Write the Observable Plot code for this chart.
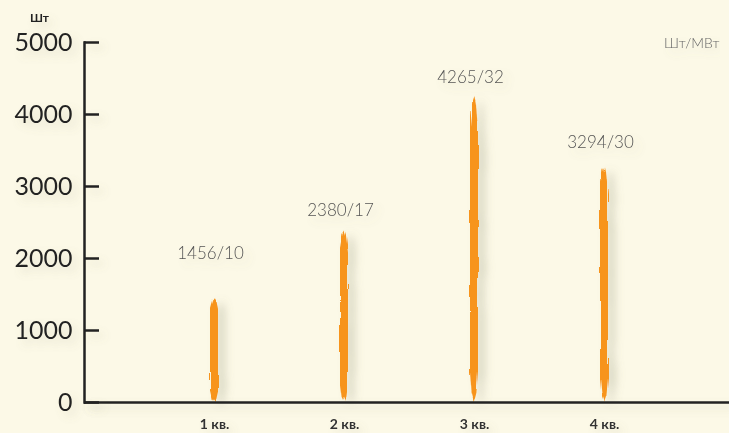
<!DOCTYPE html>
<html>
<head>
<meta charset="utf-8">
<script src="https://cdn.jsdelivr.net/npm/d3@7"></script>
<script src="https://cdn.jsdelivr.net/npm/@observablehq/plot@0.6"></script>
<style>
  html, body { margin: 0; padding: 0; background: #fcf9e7; }
  #chart svg { display: block; background: #fcf9e7; }
</style>
</head>
<body>
<div id="chart"></div>
<script>
const quarters = ["1 кв.", "2 кв.", "3 кв.", "4 кв."];
const units = [1456, 2380, 4265, 3294];
const perMW = [10, 17, 32, 30];
const yTicks = [0, 1000, 2000, 3000, 4000, 5000];
const yUnit = "Шт";
const ratioUnit = "Шт/МВт";

const data = quarters.map((q, i) => ({q, v: units[i], label: `${units[i]}/${perMW[i]}`}));
const labelDy = [-44, -21, -18, -23];

const labelMarks = data.map((d, i) =>
  Plot.text([d], {x: "q", y: "v", text: "label", dy: labelDy[i], dx: -4,
    fill: "#555", fontSize: 17, fontWeight: 300, fontFamily: "Lato, 'Open Sans', sans-serif"}));

const plot = Plot.plot({
  width: 729,
  height: 433,
  marginLeft: 84,
  marginRight: 0,
  marginTop: 42,
  marginBottom: 31,
  style: {background: "#fcf9e7", fontFamily: "Lato, 'Open Sans', sans-serif"},
  x: {type: "band", domain: quarters, paddingInner: 0.94, paddingOuter: 0.94, align: 0.51},
  y: {domain: [0, 5000]},
  marks: [
    Plot.barY(data, {x: "q", y: "v", fill: "#f7941d"}),
    Plot.ruleY([0], {stroke: "#222", strokeWidth: 2.5}),
    Plot.frame({anchor: "left", stroke: "#222", strokeWidth: 2.5}),
    Plot.axisY({ticks: yTicks, tickSize: -15, text: null, label: null, stroke: "#222", strokeWidth: 2.5}),
    Plot.axisY({ticks: yTicks, tickSize: 0, tickPadding: 12, tickFormat: d => String(d), fontSize: 25, fontWeight: 400, fill: "#222", label: null}),
    Plot.axisX({tickSize: 0, tickPadding: 17, fontSize: 14, fontWeight: "bold", fill: "#333", label: null}),
    Plot.text([yUnit], {frameAnchor: "top-left", dx: -45, dy: -29, textAnchor: "middle", fontSize: 12, fontWeight: "bold", fill: "#222"}),
    Plot.text([ratioUnit], {frameAnchor: "top-right", dx: -10, dy: -4, textAnchor: "end", fontSize: 14, fontWeight: 300, fill: "#666"}),
    ...labelMarks
  ]
});

const svg = d3.select(plot);
const defs = svg.insert("defs", ":first-child");

defs.append("clipPath").attr("id", "taper").attr("clipPathUnits", "objectBoundingBox")
  .append("polygon").attr("points", "0.55,0 0.75,0.03 1,0.12 1,0.9 0.8,0.97 0.5,1 0.2,0.97 0,0.9 0,0.1 0.3,0.02");

const rough = defs.append("filter").attr("id", "rough").attr("filterUnits", "userSpaceOnUse")
  .attr("x", 0).attr("y", 0).attr("width", 729).attr("height", 433);
rough.append("feTurbulence").attr("type", "fractalNoise").attr("baseFrequency", "0.7 0.025").attr("numOctaves", 2).attr("seed", 4).attr("result", "noise");
rough.append("feDisplacementMap").attr("in", "SourceGraphic").attr("in2", "noise").attr("scale", 4.5).attr("xChannelSelector", "R").attr("yChannelSelector", "G").attr("result", "disp");
rough.append("feGaussianBlur").attr("in", "disp").attr("stdDeviation", 4).attr("result", "b");
rough.append("feOffset").attr("in", "b").attr("dx", 7).attr("dy", 3).attr("result", "o");
rough.append("feFlood").attr("flood-color", "#8a8a70").attr("flood-opacity", 0.3);
rough.append("feComposite").attr("in2", "o").attr("operator", "in").attr("result", "sh");
const m1 = rough.append("feMerge");
m1.append("feMergeNode").attr("in", "sh");
m1.append("feMergeNode").attr("in", "disp");

const sh = defs.append("filter").attr("id", "shad").attr("filterUnits", "userSpaceOnUse")
  .attr("x", 0).attr("y", 0).attr("width", 729).attr("height", 433);
sh.append("feGaussianBlur").attr("in", "SourceAlpha").attr("stdDeviation", 4).attr("result", "b");
sh.append("feOffset").attr("in", "b").attr("dx", 5).attr("dy", 5).attr("result", "o");
sh.append("feFlood").attr("flood-color", "#8a8a70").attr("flood-opacity", 0.22);
sh.append("feComposite").attr("in2", "o").attr("operator", "in").attr("result", "s");
const m2 = sh.append("feMerge");
m2.append("feMergeNode").attr("in", "s");
m2.append("feMergeNode").attr("in", "SourceGraphic");

// bars get the brush filter and taper, other marks a soft shadow
const groups = svg.selectAll(":scope > g").nodes();
groups.forEach((g, i) => {
  d3.select(g).attr("filter", i === 0 ? "url(#rough)" : "url(#shad)");
});
d3.select(groups[0]).selectAll("rect").attr("clip-path", "url(#taper)");

document.getElementById("chart").append(plot);
</script>
</body>
</html>
